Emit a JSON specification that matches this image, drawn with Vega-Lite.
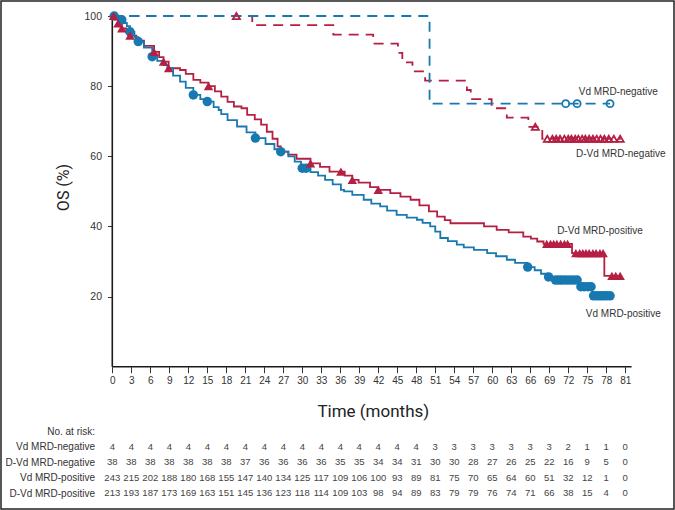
{
  "$schema": "https://vega.github.io/schema/vega-lite/v6.json",
  "width": 673,
  "height": 508,
  "padding": 1,
  "autosize": {"type": "none"},
  "background": "white",
  "config": {
    "view": {"stroke": "#222", "strokeWidth": 1.5},
    "axis": {"grid": false, "labelFont": "Liberation Sans", "titleFont": "Roboto"},
    "text": {"font": "Liberation Sans"}
  },
  "datasets": {
    "km": [
      {"group": "D-Vd MRD-negative", "t": 0, "s": 100},
      {"group": "D-Vd MRD-negative", "t": 22.1, "s": 97.4},
      {"group": "D-Vd MRD-negative", "t": 34.9, "s": 94.7},
      {"group": "D-Vd MRD-negative", "t": 41.2, "s": 92.1},
      {"group": "D-Vd MRD-negative", "t": 45.1, "s": 89.5},
      {"group": "D-Vd MRD-negative", "t": 45.8, "s": 86.8},
      {"group": "D-Vd MRD-negative", "t": 47.4, "s": 84.2},
      {"group": "D-Vd MRD-negative", "t": 49.4, "s": 81.6},
      {"group": "D-Vd MRD-negative", "t": 56.0, "s": 78.9},
      {"group": "D-Vd MRD-negative", "t": 56.6, "s": 76.3},
      {"group": "D-Vd MRD-negative", "t": 59.9, "s": 73.7},
      {"group": "D-Vd MRD-negative", "t": 62.3, "s": 71.0},
      {"group": "D-Vd MRD-negative", "t": 65.7, "s": 68.4},
      {"group": "D-Vd MRD-negative", "t": 67.9, "s": 65.0},
      {"group": "D-Vd MRD-negative", "t": 80.3, "s": 65.0},
      {"group": "Vd MRD-negative", "t": 0, "s": 100},
      {"group": "Vd MRD-negative", "t": 50.1, "s": 75},
      {"group": "Vd MRD-negative", "t": 78.6, "s": 75},
      {"group": "D-Vd MRD-positive", "t": 0, "s": 100},
      {"group": "D-Vd MRD-positive", "t": 0.5, "s": 99.0},
      {"group": "D-Vd MRD-positive", "t": 0.9, "s": 97.9},
      {"group": "D-Vd MRD-positive", "t": 1.5, "s": 96.5},
      {"group": "D-Vd MRD-positive", "t": 2.2, "s": 95.3},
      {"group": "D-Vd MRD-positive", "t": 2.8, "s": 94.4},
      {"group": "D-Vd MRD-positive", "t": 3.8, "s": 93.0},
      {"group": "D-Vd MRD-positive", "t": 5.0, "s": 91.5},
      {"group": "D-Vd MRD-positive", "t": 6.6, "s": 89.8},
      {"group": "D-Vd MRD-positive", "t": 7.4, "s": 88.3},
      {"group": "D-Vd MRD-positive", "t": 8.1, "s": 87.0},
      {"group": "D-Vd MRD-positive", "t": 8.9, "s": 85.1},
      {"group": "D-Vd MRD-positive", "t": 10.7, "s": 84.6},
      {"group": "D-Vd MRD-positive", "t": 11.6, "s": 83.5},
      {"group": "D-Vd MRD-positive", "t": 12.8, "s": 81.8},
      {"group": "D-Vd MRD-positive", "t": 13.9, "s": 81.0},
      {"group": "D-Vd MRD-positive", "t": 15.2, "s": 80.0},
      {"group": "D-Vd MRD-positive", "t": 16.2, "s": 78.5},
      {"group": "D-Vd MRD-positive", "t": 17.2, "s": 77.0},
      {"group": "D-Vd MRD-positive", "t": 18.2, "s": 75.5},
      {"group": "D-Vd MRD-positive", "t": 19.2, "s": 74.2},
      {"group": "D-Vd MRD-positive", "t": 20.4, "s": 73.7},
      {"group": "D-Vd MRD-positive", "t": 21.3, "s": 71.8},
      {"group": "D-Vd MRD-positive", "t": 22.5, "s": 70.5},
      {"group": "D-Vd MRD-positive", "t": 23.5, "s": 69.0},
      {"group": "D-Vd MRD-positive", "t": 24.4, "s": 67.0},
      {"group": "D-Vd MRD-positive", "t": 25.3, "s": 65.0},
      {"group": "D-Vd MRD-positive", "t": 26.1, "s": 62.8},
      {"group": "D-Vd MRD-positive", "t": 26.6, "s": 61.3},
      {"group": "D-Vd MRD-positive", "t": 27.8, "s": 60.5},
      {"group": "D-Vd MRD-positive", "t": 29.1, "s": 59.3},
      {"group": "D-Vd MRD-positive", "t": 31.3, "s": 58.0},
      {"group": "D-Vd MRD-positive", "t": 32.8, "s": 57.0},
      {"group": "D-Vd MRD-positive", "t": 34.3, "s": 55.6},
      {"group": "D-Vd MRD-positive", "t": 36.7, "s": 54.5},
      {"group": "D-Vd MRD-positive", "t": 37.9, "s": 53.3},
      {"group": "D-Vd MRD-positive", "t": 38.9, "s": 52.5},
      {"group": "D-Vd MRD-positive", "t": 40.7, "s": 51.2},
      {"group": "D-Vd MRD-positive", "t": 42.0, "s": 50.4},
      {"group": "D-Vd MRD-positive", "t": 43.9, "s": 49.5},
      {"group": "D-Vd MRD-positive", "t": 45.5, "s": 48.5},
      {"group": "D-Vd MRD-positive", "t": 47.1, "s": 47.6},
      {"group": "D-Vd MRD-positive", "t": 48.5, "s": 46.0},
      {"group": "D-Vd MRD-positive", "t": 50.0, "s": 44.3},
      {"group": "D-Vd MRD-positive", "t": 51.3, "s": 42.8},
      {"group": "D-Vd MRD-positive", "t": 52.5, "s": 41.8},
      {"group": "D-Vd MRD-positive", "t": 53.4, "s": 40.9},
      {"group": "D-Vd MRD-positive", "t": 58.7, "s": 40.0},
      {"group": "D-Vd MRD-positive", "t": 60.7, "s": 39.0},
      {"group": "D-Vd MRD-positive", "t": 62.6, "s": 38.3},
      {"group": "D-Vd MRD-positive", "t": 64.9, "s": 37.1},
      {"group": "D-Vd MRD-positive", "t": 66.1, "s": 36.5},
      {"group": "D-Vd MRD-positive", "t": 67.1, "s": 35.7},
      {"group": "D-Vd MRD-positive", "t": 68.1, "s": 35.0},
      {"group": "D-Vd MRD-positive", "t": 72.6, "s": 32.4},
      {"group": "D-Vd MRD-positive", "t": 77.7, "s": 25.9},
      {"group": "D-Vd MRD-positive", "t": 80.3, "s": 25.9},
      {"group": "Vd MRD-positive", "t": 0, "s": 100},
      {"group": "Vd MRD-positive", "t": 0.5, "s": 99.6},
      {"group": "Vd MRD-positive", "t": 1.0, "s": 98.9},
      {"group": "Vd MRD-positive", "t": 1.8, "s": 98.0},
      {"group": "Vd MRD-positive", "t": 2.3, "s": 97.1},
      {"group": "Vd MRD-positive", "t": 2.8, "s": 95.5},
      {"group": "Vd MRD-positive", "t": 3.5, "s": 94.0},
      {"group": "Vd MRD-positive", "t": 4.1, "s": 92.7},
      {"group": "Vd MRD-positive", "t": 5.0, "s": 91.0},
      {"group": "Vd MRD-positive", "t": 6.3, "s": 88.4},
      {"group": "Vd MRD-positive", "t": 7.1, "s": 87.2},
      {"group": "Vd MRD-positive", "t": 8.1, "s": 86.0},
      {"group": "Vd MRD-positive", "t": 8.7, "s": 85.1},
      {"group": "Vd MRD-positive", "t": 9.6, "s": 83.0},
      {"group": "Vd MRD-positive", "t": 10.7, "s": 81.3},
      {"group": "Vd MRD-positive", "t": 11.6, "s": 79.5},
      {"group": "Vd MRD-positive", "t": 12.8, "s": 77.5},
      {"group": "Vd MRD-positive", "t": 13.9, "s": 76.3},
      {"group": "Vd MRD-positive", "t": 15.0, "s": 75.6},
      {"group": "Vd MRD-positive", "t": 16.0, "s": 74.0},
      {"group": "Vd MRD-positive", "t": 16.8, "s": 73.2},
      {"group": "Vd MRD-positive", "t": 17.2, "s": 72.0},
      {"group": "Vd MRD-positive", "t": 18.2, "s": 70.3},
      {"group": "Vd MRD-positive", "t": 19.7, "s": 68.5},
      {"group": "Vd MRD-positive", "t": 21.2, "s": 66.8},
      {"group": "Vd MRD-positive", "t": 22.6, "s": 65.2},
      {"group": "Vd MRD-positive", "t": 24.2, "s": 63.5},
      {"group": "Vd MRD-positive", "t": 25.6, "s": 62.0},
      {"group": "Vd MRD-positive", "t": 26.6, "s": 61.3},
      {"group": "Vd MRD-positive", "t": 27.8, "s": 60.0},
      {"group": "Vd MRD-positive", "t": 28.8, "s": 58.5},
      {"group": "Vd MRD-positive", "t": 29.8, "s": 56.6},
      {"group": "Vd MRD-positive", "t": 31.3, "s": 55.5},
      {"group": "Vd MRD-positive", "t": 32.5, "s": 54.5},
      {"group": "Vd MRD-positive", "t": 33.6, "s": 53.3},
      {"group": "Vd MRD-positive", "t": 34.8, "s": 52.0},
      {"group": "Vd MRD-positive", "t": 36.1, "s": 50.4},
      {"group": "Vd MRD-positive", "t": 36.6, "s": 50.0},
      {"group": "Vd MRD-positive", "t": 37.9, "s": 49.0},
      {"group": "Vd MRD-positive", "t": 39.7, "s": 47.6},
      {"group": "Vd MRD-positive", "t": 40.9, "s": 46.5},
      {"group": "Vd MRD-positive", "t": 42.3, "s": 45.7},
      {"group": "Vd MRD-positive", "t": 43.4, "s": 44.5},
      {"group": "Vd MRD-positive", "t": 44.9, "s": 43.3},
      {"group": "Vd MRD-positive", "t": 46.5, "s": 42.5},
      {"group": "Vd MRD-positive", "t": 48.1, "s": 41.9},
      {"group": "Vd MRD-positive", "t": 49.0, "s": 41.0},
      {"group": "Vd MRD-positive", "t": 50.2, "s": 40.0},
      {"group": "Vd MRD-positive", "t": 51.0, "s": 38.5},
      {"group": "Vd MRD-positive", "t": 51.8, "s": 36.7},
      {"group": "Vd MRD-positive", "t": 53.0, "s": 35.8},
      {"group": "Vd MRD-positive", "t": 54.4, "s": 34.8},
      {"group": "Vd MRD-positive", "t": 55.5, "s": 34.0},
      {"group": "Vd MRD-positive", "t": 57.1, "s": 33.3},
      {"group": "Vd MRD-positive", "t": 59.2, "s": 32.4},
      {"group": "Vd MRD-positive", "t": 60.6, "s": 31.5},
      {"group": "Vd MRD-positive", "t": 62.3, "s": 30.5},
      {"group": "Vd MRD-positive", "t": 63.6, "s": 29.6},
      {"group": "Vd MRD-positive", "t": 65.5, "s": 28.4},
      {"group": "Vd MRD-positive", "t": 66.7, "s": 27.5},
      {"group": "Vd MRD-positive", "t": 67.7, "s": 26.5},
      {"group": "Vd MRD-positive", "t": 68.7, "s": 25.6},
      {"group": "Vd MRD-positive", "t": 69.5, "s": 24.7},
      {"group": "Vd MRD-positive", "t": 73.7, "s": 22.8},
      {"group": "Vd MRD-positive", "t": 75.8, "s": 20.2},
      {"group": "Vd MRD-positive", "t": 78.6, "s": 20.2}
    ],
    "cens": [
      {"group": "Vd MRD-negative", "t": 71.6, "s": 75},
      {"group": "Vd MRD-negative", "t": 73.4, "s": 75},
      {"group": "Vd MRD-negative", "t": 78.6, "s": 75},
      {"group": "D-Vd MRD-negative", "t": 19.6, "s": 100},
      {"group": "D-Vd MRD-negative", "t": 66.8, "s": 68.4},
      {"group": "D-Vd MRD-negative", "t": 68.7, "s": 65},
      {"group": "D-Vd MRD-negative", "t": 69.5, "s": 65},
      {"group": "D-Vd MRD-negative", "t": 70.1, "s": 65},
      {"group": "D-Vd MRD-negative", "t": 70.7, "s": 65},
      {"group": "D-Vd MRD-negative", "t": 71.4, "s": 65},
      {"group": "D-Vd MRD-negative", "t": 72.0, "s": 65},
      {"group": "D-Vd MRD-negative", "t": 72.5, "s": 65},
      {"group": "D-Vd MRD-negative", "t": 73.1, "s": 65},
      {"group": "D-Vd MRD-negative", "t": 73.6, "s": 65},
      {"group": "D-Vd MRD-negative", "t": 74.2, "s": 65},
      {"group": "D-Vd MRD-negative", "t": 74.7, "s": 65},
      {"group": "D-Vd MRD-negative", "t": 75.3, "s": 65},
      {"group": "D-Vd MRD-negative", "t": 75.9, "s": 65},
      {"group": "D-Vd MRD-negative", "t": 76.5, "s": 65},
      {"group": "D-Vd MRD-negative", "t": 77.1, "s": 65},
      {"group": "D-Vd MRD-negative", "t": 77.7, "s": 65},
      {"group": "D-Vd MRD-negative", "t": 78.4, "s": 65},
      {"group": "D-Vd MRD-negative", "t": 79.2, "s": 65},
      {"group": "D-Vd MRD-negative", "t": 80.2, "s": 65},
      {"group": "Vd MRD-positive", "t": 0.3, "s": 100},
      {"group": "Vd MRD-positive", "t": 1.5, "s": 98.9},
      {"group": "Vd MRD-positive", "t": 2.8, "s": 95.5},
      {"group": "Vd MRD-positive", "t": 4.1, "s": 92.7},
      {"group": "Vd MRD-positive", "t": 6.3, "s": 88.4},
      {"group": "Vd MRD-positive", "t": 12.8, "s": 77.5},
      {"group": "Vd MRD-positive", "t": 15.0, "s": 75.6},
      {"group": "Vd MRD-positive", "t": 22.6, "s": 65.2},
      {"group": "Vd MRD-positive", "t": 26.6, "s": 61.3},
      {"group": "Vd MRD-positive", "t": 30.0, "s": 56.6},
      {"group": "Vd MRD-positive", "t": 30.6, "s": 56.6},
      {"group": "Vd MRD-positive", "t": 65.6, "s": 28.4},
      {"group": "Vd MRD-positive", "t": 68.9, "s": 25.6},
      {"group": "Vd MRD-positive", "t": 70.0, "s": 24.7},
      {"group": "Vd MRD-positive", "t": 70.5, "s": 24.7},
      {"group": "Vd MRD-positive", "t": 71.0, "s": 24.7},
      {"group": "Vd MRD-positive", "t": 71.6, "s": 24.7},
      {"group": "Vd MRD-positive", "t": 72.2, "s": 24.7},
      {"group": "Vd MRD-positive", "t": 72.8, "s": 24.7},
      {"group": "Vd MRD-positive", "t": 73.4, "s": 24.7},
      {"group": "Vd MRD-positive", "t": 74.0, "s": 22.8},
      {"group": "Vd MRD-positive", "t": 74.5, "s": 22.8},
      {"group": "Vd MRD-positive", "t": 75.1, "s": 22.8},
      {"group": "Vd MRD-positive", "t": 75.6, "s": 22.8},
      {"group": "Vd MRD-positive", "t": 76.0, "s": 20.2},
      {"group": "Vd MRD-positive", "t": 76.5, "s": 20.2},
      {"group": "Vd MRD-positive", "t": 77.0, "s": 20.2},
      {"group": "Vd MRD-positive", "t": 77.5, "s": 20.2},
      {"group": "Vd MRD-positive", "t": 78.0, "s": 20.2},
      {"group": "Vd MRD-positive", "t": 78.6, "s": 20.2},
      {"group": "D-Vd MRD-positive", "t": 0.2, "s": 100},
      {"group": "D-Vd MRD-positive", "t": 0.9, "s": 97.9},
      {"group": "D-Vd MRD-positive", "t": 1.5, "s": 96.5},
      {"group": "D-Vd MRD-positive", "t": 2.8, "s": 94.4},
      {"group": "D-Vd MRD-positive", "t": 6.6, "s": 89.8},
      {"group": "D-Vd MRD-positive", "t": 8.1, "s": 87.0},
      {"group": "D-Vd MRD-positive", "t": 8.9, "s": 85.1},
      {"group": "D-Vd MRD-positive", "t": 15.2, "s": 80.0},
      {"group": "D-Vd MRD-positive", "t": 31.3, "s": 58.0},
      {"group": "D-Vd MRD-positive", "t": 36.1, "s": 55.6},
      {"group": "D-Vd MRD-positive", "t": 37.9, "s": 53.3},
      {"group": "D-Vd MRD-positive", "t": 42.0, "s": 50.4},
      {"group": "D-Vd MRD-positive", "t": 68.6, "s": 35.0},
      {"group": "D-Vd MRD-positive", "t": 69.2, "s": 35.0},
      {"group": "D-Vd MRD-positive", "t": 69.7, "s": 35.0},
      {"group": "D-Vd MRD-positive", "t": 70.2, "s": 35.0},
      {"group": "D-Vd MRD-positive", "t": 70.8, "s": 35.0},
      {"group": "D-Vd MRD-positive", "t": 71.4, "s": 35.0},
      {"group": "D-Vd MRD-positive", "t": 71.9, "s": 35.0},
      {"group": "D-Vd MRD-positive", "t": 73.2, "s": 32.4},
      {"group": "D-Vd MRD-positive", "t": 73.8, "s": 32.4},
      {"group": "D-Vd MRD-positive", "t": 74.3, "s": 32.4},
      {"group": "D-Vd MRD-positive", "t": 74.8, "s": 32.4},
      {"group": "D-Vd MRD-positive", "t": 75.3, "s": 32.4},
      {"group": "D-Vd MRD-positive", "t": 75.9, "s": 32.4},
      {"group": "D-Vd MRD-positive", "t": 76.4, "s": 32.4},
      {"group": "D-Vd MRD-positive", "t": 77.0, "s": 32.4},
      {"group": "D-Vd MRD-positive", "t": 77.5, "s": 32.4},
      {"group": "D-Vd MRD-positive", "t": 78.9, "s": 25.9},
      {"group": "D-Vd MRD-positive", "t": 79.5, "s": 25.9},
      {"group": "D-Vd MRD-positive", "t": 80.2, "s": 25.9}
    ],
    "labels": [
      {"label": "Vd MRD-negative", "t": 79.9, "s": 78.4},
      {"label": "D-Vd MRD-negative", "t": 80.3, "s": 60.6},
      {"label": "D-Vd MRD-positive", "t": 77.0, "s": 38.8},
      {"label": "Vd MRD-positive", "t": 80.7, "s": 15.0}
    ],
    "axislines": [
      {"t": 0, "t2": 82, "s": 0, "s2": 0},
      {"t": 0, "t2": 0, "s": 0, "s2": 100}
    ],
    "risk": [
      {"t": 0, "Vd MRD-negative": 4, "D-Vd MRD-negative": 38, "Vd MRD-positive": 243, "D-Vd MRD-positive": 213},
      {"t": 3, "Vd MRD-negative": 4, "D-Vd MRD-negative": 38, "Vd MRD-positive": 215, "D-Vd MRD-positive": 193},
      {"t": 6, "Vd MRD-negative": 4, "D-Vd MRD-negative": 38, "Vd MRD-positive": 202, "D-Vd MRD-positive": 187},
      {"t": 9, "Vd MRD-negative": 4, "D-Vd MRD-negative": 38, "Vd MRD-positive": 188, "D-Vd MRD-positive": 173},
      {"t": 12, "Vd MRD-negative": 4, "D-Vd MRD-negative": 38, "Vd MRD-positive": 180, "D-Vd MRD-positive": 169},
      {"t": 15, "Vd MRD-negative": 4, "D-Vd MRD-negative": 38, "Vd MRD-positive": 168, "D-Vd MRD-positive": 163},
      {"t": 18, "Vd MRD-negative": 4, "D-Vd MRD-negative": 38, "Vd MRD-positive": 155, "D-Vd MRD-positive": 151},
      {"t": 21, "Vd MRD-negative": 4, "D-Vd MRD-negative": 37, "Vd MRD-positive": 147, "D-Vd MRD-positive": 145},
      {"t": 24, "Vd MRD-negative": 4, "D-Vd MRD-negative": 36, "Vd MRD-positive": 140, "D-Vd MRD-positive": 136},
      {"t": 27, "Vd MRD-negative": 4, "D-Vd MRD-negative": 36, "Vd MRD-positive": 134, "D-Vd MRD-positive": 123},
      {"t": 30, "Vd MRD-negative": 4, "D-Vd MRD-negative": 36, "Vd MRD-positive": 125, "D-Vd MRD-positive": 118},
      {"t": 33, "Vd MRD-negative": 4, "D-Vd MRD-negative": 36, "Vd MRD-positive": 117, "D-Vd MRD-positive": 114},
      {"t": 36, "Vd MRD-negative": 4, "D-Vd MRD-negative": 35, "Vd MRD-positive": 109, "D-Vd MRD-positive": 109},
      {"t": 39, "Vd MRD-negative": 4, "D-Vd MRD-negative": 35, "Vd MRD-positive": 106, "D-Vd MRD-positive": 103},
      {"t": 42, "Vd MRD-negative": 4, "D-Vd MRD-negative": 34, "Vd MRD-positive": 100, "D-Vd MRD-positive": 98},
      {"t": 45, "Vd MRD-negative": 4, "D-Vd MRD-negative": 34, "Vd MRD-positive": 93, "D-Vd MRD-positive": 94},
      {"t": 48, "Vd MRD-negative": 4, "D-Vd MRD-negative": 31, "Vd MRD-positive": 89, "D-Vd MRD-positive": 89},
      {"t": 51, "Vd MRD-negative": 3, "D-Vd MRD-negative": 30, "Vd MRD-positive": 81, "D-Vd MRD-positive": 83},
      {"t": 54, "Vd MRD-negative": 3, "D-Vd MRD-negative": 30, "Vd MRD-positive": 75, "D-Vd MRD-positive": 79},
      {"t": 57, "Vd MRD-negative": 3, "D-Vd MRD-negative": 28, "Vd MRD-positive": 70, "D-Vd MRD-positive": 79},
      {"t": 60, "Vd MRD-negative": 3, "D-Vd MRD-negative": 27, "Vd MRD-positive": 65, "D-Vd MRD-positive": 76},
      {"t": 63, "Vd MRD-negative": 3, "D-Vd MRD-negative": 26, "Vd MRD-positive": 64, "D-Vd MRD-positive": 74},
      {"t": 66, "Vd MRD-negative": 3, "D-Vd MRD-negative": 25, "Vd MRD-positive": 60, "D-Vd MRD-positive": 71},
      {"t": 69, "Vd MRD-negative": 3, "D-Vd MRD-negative": 22, "Vd MRD-positive": 51, "D-Vd MRD-positive": 66},
      {"t": 72, "Vd MRD-negative": 2, "D-Vd MRD-negative": 16, "Vd MRD-positive": 32, "D-Vd MRD-positive": 38},
      {"t": 75, "Vd MRD-negative": 1, "D-Vd MRD-negative": 9, "Vd MRD-positive": 12, "D-Vd MRD-positive": 15},
      {"t": 78, "Vd MRD-negative": 1, "D-Vd MRD-negative": 5, "Vd MRD-positive": 1, "D-Vd MRD-positive": 4},
      {"t": 81, "Vd MRD-negative": 0, "D-Vd MRD-negative": 0, "Vd MRD-positive": 0, "D-Vd MRD-positive": 0}
    ]
  },
  "encoding": {
    "x": {
      "field": "t",
      "type": "quantitative",
      "scale": {"domain": [-17.574, 88.70], "nice": false, "zero": false},
      "axis": {
        "values": [0, 3, 6, 9, 12, 15, 18, 21, 24, 27, 30, 33, 36, 39, 42, 45, 48, 51, 54, 57, 60, 63, 66, 69, 72, 75, 78, 81],
        "format": "d",
        "offset": -142.3,
        "domain": false,
        "tickSize": 6,
        "tickColor": "#333",
        "labelFontSize": 10,
        "labelColor": "#333",
        "labelPadding": 3,
        "labelFlush": false,
        "labelOverlap": false,
        "title": "Time (months)",
        "titleFontSize": 17,
        "titleFontWeight": "normal",
        "titleColor": "#222",
        "titleX": 371.8,
        "titleY": 50,
        "titleBaseline": "alphabetic",
        "titleAlign": "center"
      }
    }
  },
  "layer": [
    {
      "encoding": {
        "y": {
          "field": "s",
          "type": "quantitative",
          "scale": {"domain": [-40.58, 104.28], "nice": false, "zero": false},
          "axis": {
            "values": [20, 40, 60, 80, 100],
            "offset": -111.5,
            "domain": false,
            "tickSize": 5,
            "tickColor": "#333",
            "labelFontSize": 10.5,
            "labelColor": "#333",
            "labelPadding": 6,
            "title": "OS (%)",
            "titleFontSize": 16,
            "titleFontWeight": "normal",
            "titleColor": "#222",
            "titleX": -49.5,
            "titleY": 186,
            "titleAngle": -90,
            "titleBaseline": "middle",
            "titleAlign": "center"
          }
        }
      },
      "layer": [
        {
          "data": {"name": "axislines"},
          "mark": {"type": "rule", "color": "#1a1a1a", "strokeWidth": 1.6},
          "encoding": {"x2": {"field": "t2"}, "y2": {"field": "s2"}}
        },
        {
          "data": {"name": "km"},
          "transform": [{"filter": {"field": "group", "oneOf": ["D-Vd MRD-negative", "D-Vd MRD-positive"]}}],
          "mark": {"type": "line", "interpolate": "step-after", "strokeWidth": 1.8},
          "encoding": {
            "color": {"field": "group", "type": "nominal", "scale": {"domain": ["Vd MRD-negative", "D-Vd MRD-negative", "Vd MRD-positive", "D-Vd MRD-positive"], "range": ["#1878b0", "#b41f43", "#1878b0", "#b41f43"]}, "legend": null},
            "strokeDash": {"field": "group", "type": "nominal", "scale": {"domain": ["Vd MRD-negative", "D-Vd MRD-negative", "Vd MRD-positive", "D-Vd MRD-positive"], "range": [[10, 7], [10, 7], [1, 0], [1, 0]]}, "legend": null}
          }
        },
        {
          "data": {"name": "km"},
          "transform": [{"filter": {"field": "group", "oneOf": ["Vd MRD-negative", "Vd MRD-positive"]}}],
          "mark": {"type": "line", "interpolate": "step-after", "strokeWidth": 1.8},
          "encoding": {
            "color": {"field": "group", "type": "nominal", "legend": null},
            "strokeDash": {"field": "group", "type": "nominal", "legend": null}
          }
        },
        {
          "data": {"name": "cens"},
          "transform": [{"filter": {"field": "group", "oneOf": ["Vd MRD-positive", "D-Vd MRD-positive"]}}],
          "mark": {"type": "point", "filled": true, "size": 90, "opacity": 1},
          "encoding": {
            "color": {"field": "group", "type": "nominal", "legend": null},
            "shape": {"field": "group", "type": "nominal", "scale": {"domain": ["Vd MRD-negative", "D-Vd MRD-negative", "Vd MRD-positive", "D-Vd MRD-positive"], "range": ["circle", "triangle-up", "circle", "triangle-up"]}, "legend": null}
          }
        },
        {
          "data": {"name": "cens"},
          "transform": [{"filter": {"field": "group", "oneOf": ["Vd MRD-negative", "D-Vd MRD-negative"]}}],
          "mark": {"type": "point", "filled": false, "size": 50, "strokeWidth": 1.8, "opacity": 1},
          "encoding": {
            "color": {"field": "group", "type": "nominal", "legend": null},
            "shape": {"field": "group", "type": "nominal", "legend": null}
          }
        },
        {
          "data": {"name": "labels"},
          "mark": {"type": "text", "fontSize": 10, "color": "#333", "align": "center", "baseline": "middle"},
          "encoding": {"text": {"field": "label"}}
        }
      ]
    },
    {
      "data": {"name": "risk"},
      "transform": [{"fold": ["Vd MRD-negative", "D-Vd MRD-negative", "Vd MRD-positive", "D-Vd MRD-positive"], "as": ["group", "n"]}],
      "mark": {"type": "text", "fontSize": 9.5, "color": "#444", "align": "center", "baseline": "middle"},
      "encoding": {
        "y": {
          "field": "group",
          "type": "nominal",
          "scale": {"type": "point", "domain": ["No. at risk:", "Vd MRD-negative", "D-Vd MRD-negative", "Vd MRD-positive", "D-Vd MRD-positive"], "range": [430.5, 492], "padding": 0},
          "axis": {
            "orient": "left",
            "offset": -93.5,
            "domain": false,
            "ticks": false,
            "tickSize": 0,
            "labelPadding": 0,
            "labelFontSize": 10,
            "labelColor": "#333",
            "title": null
          }
        },
        "text": {"field": "n", "type": "quantitative"}
      }
    }
  ],
  "resolve": {"scale": {"y": "independent"}}
}
